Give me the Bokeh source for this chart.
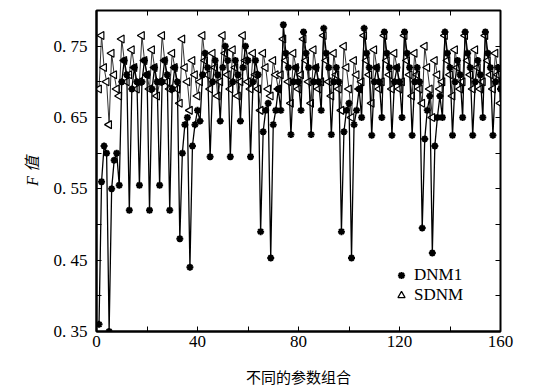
import math
from bokeh.plotting import figure
from bokeh.models import FixedTicker, LinearAxis, Legend, LegendItem, ColumnDataSource, Range1d
from bokeh.embed import file_html
from bokeh.resources import INLINE

# ---- data ----
combo = list(range(1, 161))

dnm1 = [
    0.36, 0.56, 0.61, 0.60, 0.35, 0.55, 0.59, 0.60,
    0.555, 0.70, 0.73, 0.71, 0.52, 0.69, 0.72, 0.70,
    0.555, 0.70, 0.73, 0.71, 0.52, 0.69, 0.72, 0.70,
    0.555, 0.70, 0.73, 0.71, 0.52, 0.69, 0.72, 0.70,
    0.48, 0.60, 0.64, 0.65, 0.44, 0.61, 0.64, 0.66,
    0.645, 0.71, 0.74, 0.72, 0.595, 0.70, 0.73, 0.71,
    0.645, 0.72, 0.75, 0.73, 0.595, 0.70, 0.73, 0.71,
    0.645, 0.72, 0.75, 0.73, 0.595, 0.70, 0.73, 0.71,
    0.49, 0.63, 0.66, 0.67, 0.453, 0.64, 0.66, 0.69,
    0.66, 0.78, 0.74, 0.72, 0.626, 0.70, 0.72, 0.70,
    0.66, 0.77, 0.74, 0.72, 0.626, 0.70, 0.72, 0.70,
    0.66, 0.775, 0.74, 0.72, 0.626, 0.70, 0.72, 0.70,
    0.49, 0.63, 0.66, 0.67, 0.453, 0.64, 0.66, 0.69,
    0.65, 0.775, 0.74, 0.72, 0.625, 0.70, 0.72, 0.70,
    0.65, 0.77, 0.74, 0.72, 0.625, 0.70, 0.72, 0.70,
    0.65, 0.77, 0.74, 0.72, 0.625, 0.70, 0.72, 0.70,
    0.495, 0.62, 0.66, 0.68, 0.46, 0.61, 0.65, 0.68,
    0.65, 0.77, 0.74, 0.72, 0.625, 0.70, 0.73, 0.71,
    0.65, 0.77, 0.74, 0.72, 0.625, 0.70, 0.73, 0.71,
    0.65, 0.77, 0.74, 0.72, 0.625, 0.70, 0.72, 0.69,
]

sdnm = [
    0.69, 0.765, 0.72, 0.70, 0.64, 0.74, 0.71, 0.69,
    0.68, 0.76, 0.73, 0.70, 0.71, 0.745, 0.72, 0.69,
    0.70, 0.765, 0.73, 0.71, 0.69, 0.745, 0.72, 0.68,
    0.70, 0.765, 0.73, 0.70, 0.69, 0.74, 0.72, 0.69,
    0.67, 0.76, 0.72, 0.70, 0.66, 0.73, 0.71, 0.68,
    0.70, 0.765, 0.73, 0.71, 0.69, 0.74, 0.72, 0.68,
    0.70, 0.765, 0.74, 0.71, 0.69, 0.745, 0.72, 0.68,
    0.70, 0.765, 0.73, 0.70, 0.69, 0.74, 0.71, 0.69,
    0.66, 0.74, 0.72, 0.69, 0.68, 0.73, 0.71, 0.69,
    0.71, 0.76, 0.73, 0.70, 0.67, 0.74, 0.72, 0.69,
    0.71, 0.76, 0.73, 0.70, 0.67, 0.745, 0.72, 0.69,
    0.70, 0.765, 0.73, 0.70, 0.68, 0.74, 0.71, 0.69,
    0.66, 0.75, 0.72, 0.69, 0.65, 0.73, 0.71, 0.69,
    0.70, 0.765, 0.73, 0.71, 0.67, 0.745, 0.72, 0.69,
    0.70, 0.765, 0.73, 0.71, 0.69, 0.74, 0.72, 0.69,
    0.70, 0.765, 0.73, 0.71, 0.68, 0.74, 0.71, 0.69,
    0.67, 0.75, 0.72, 0.69, 0.65, 0.73, 0.71, 0.69,
    0.70, 0.765, 0.73, 0.71, 0.68, 0.745, 0.72, 0.69,
    0.70, 0.765, 0.73, 0.71, 0.69, 0.745, 0.72, 0.69,
    0.70, 0.765, 0.73, 0.71, 0.69, 0.74, 0.71, 0.67,
]

x_major = [0, 40, 80, 120, 160]
x_minor = [20, 60, 100, 140]
y_major = [0.35, 0.45, 0.55, 0.65, 0.75]
y_minor = [0.40, 0.50, 0.60, 0.70]
y_labels = {0.35: "0. 35", 0.45: "0. 45", 0.55: "0. 55", 0.65: "0. 65", 0.75: "0. 75"}

SERIF = "Liberation Serif"
CJK = "Noto Sans CJK SC"

p = figure(frame_width=404, frame_height=321,
           x_range=Range1d(0, 160), y_range=Range1d(0.35, 0.80),
           output_backend="svg", toolbar_location=None,
           min_border_left=96, min_border_right=14, min_border_top=10, min_border_bottom=50)
p.grid.visible = False
p.outline_line_color = "black"
p.outline_line_width = 2
p.background_fill_color = "white"
p.border_fill_color = "white"

src = ColumnDataSource(dict(x=combo, d=dnm1, s=sdnm))

p.line("x", "s", source=src, line_color="#333333", line_width=1)
r_tri = p.scatter("x", "s", source=src, marker="triangle", angle=math.pi / 2, size=8,
                  fill_color="white", line_color="black", line_width=1.2)
p.line("x", "d", source=src, line_color="black", line_width=1.3)
r_star = p.scatter("x", "d", source=src, marker="asterisk", size=7, line_color="black", line_width=2)

# axes styling
xa = p.xaxis[0]
xa.ticker = FixedTicker(ticks=x_major, minor_ticks=x_minor)
ya = p.yaxis[0]
ya.ticker = FixedTicker(ticks=y_major, minor_ticks=y_minor)
ya.major_label_overrides = y_labels
for ax in (xa, ya):
    ax.axis_line_color = "black"
    ax.axis_line_width = 2
    ax.major_tick_in = 5
    ax.major_tick_out = 0
    ax.minor_tick_in = 5
    ax.minor_tick_out = 0
    ax.major_label_text_font = SERIF
    ax.major_label_text_font_size = "17px"
    ax.major_label_text_color = "black"
    ax.axis_label_text_color = "black"
xa.major_label_standoff = 4
ya.major_label_standoff = 9
xa.axis_label = "不同的参数组合"
xa.axis_label_text_font = CJK
xa.axis_label_text_font_size = "15px"
xa.axis_label_text_font_style = "normal"
xa.axis_label_standoff = 16

ya.axis_label = "F 值"
ya.axis_label_text_font = SERIF + ", " + CJK
ya.axis_label_text_font_style = "italic"
ya.axis_label_text_font_size = "16px"
ya.axis_label_standoff = 10

top = LinearAxis(ticker=FixedTicker(ticks=x_major, minor_ticks=x_minor))
right = LinearAxis(ticker=FixedTicker(ticks=y_major, minor_ticks=y_minor))
for ax in (top, right):
    ax.major_tick_in = 5
    ax.major_tick_out = 0
    ax.minor_tick_in = 5
    ax.minor_tick_out = 0
    ax.major_label_text_font_size = "0px"
    ax.major_label_text_alpha = 0
    ax.major_label_standoff = 0
    ax.axis_line_color = "black"
p.add_layout(top, "above")
p.add_layout(right, "right")

legend = Legend(items=[LegendItem(label="DNM1", renderers=[r_star]),
                       LegendItem(label="SDNM", renderers=[r_tri])],
                location=(294, 24))
legend.label_text_font = SERIF
legend.label_text_font_size = "17px"
legend.label_text_color = "black"
legend.background_fill_alpha = 0
legend.border_line_alpha = 0
legend.glyph_width = 18
legend.spacing = 0
legend.padding = 2
legend.label_standoff = 4
legend.label_height = 20
p.add_layout(legend, "center")

open("out.html", "w").write(file_html(p, INLINE))
